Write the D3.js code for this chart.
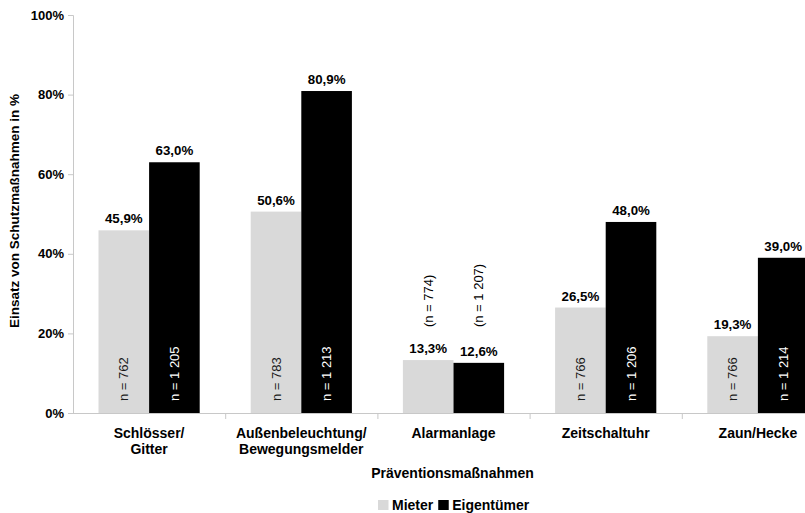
<!DOCTYPE html>
<html>
<head>
<meta charset="utf-8">
<script src="https://cdn.jsdelivr.net/npm/d3@7"></script>
<style>
  html, body { margin: 0; padding: 0; background: #fff; }
  svg { display: block; font-family: "Liberation Sans", Arial, sans-serif; }
</style>
</head>
<body>
<svg id="chart" width="805" height="513"></svg>
<script>
// Prevention measures, share of households using each (in %)
const categories = [
  ["Schlösser/", "Gitter"],
  ["Außenbeleuchtung/", "Bewegungsmelder"],
  ["Alarmanlage"],
  ["Zeitschaltuhr"],
  ["Zaun/Hecke"]
];
const seriesNames = ["Mieter", "Eigentümer"];
const mieter = [45.9, 50.6, 13.3, 26.5, 19.3];
const eigentuemer = [63.0, 80.9, 12.6, 48.0, 39.0];
const nMieter = ["762", "783", "774", "766", "766"];
const nEigentuemer = ["1 205", "1 213", "1 207", "1 206", "1 214"];
const yTicks = [0, 20, 40, 60, 80, 100];

const colors = { "Mieter": "#d9d9d9", "Eigentümer": "#000000" };
const nColors = { "Mieter": "#1a1a1a", "Eigentümer": "#fff" };

const de = d3.formatLocale({ decimal: ",", thousands: " ", grouping: [3], currency: ["", " €"] });
const fmtVal = v => de.format(".1f")(v) + "%";

const svg = d3.select("#chart");
const plotLeft = 73, plotRight = 834, plotTop = 15, plotBottom = 413;

const catKeys = categories.map(c => c.join(" "));
const x = d3.scaleBand().domain(catKeys).range([plotLeft, plotRight]).padding(0);
const bw = x.bandwidth();
const x1 = d3.scaleBand().domain(seriesNames).range([25.5, bw - 25.5]).padding(0);
const y = d3.scaleLinear().domain([0, 100]).range([plotBottom, plotTop]);

const rows = catKeys.map((k, i) => ({
  key: k,
  label: categories[i],
  values: [
    { s: "Mieter", v: mieter[i], n: nMieter[i] },
    { s: "Eigentümer", v: eigentuemer[i], n: nEigentuemer[i] }
  ]
}));

// Bars
const g = svg.append("g");
const groups = g.selectAll("g.cat").data(rows).join("g")
  .attr("class", "cat")
  .attr("transform", d => `translate(${x(d.key)},0)`);

groups.selectAll("rect").data(d => d.values).join("rect")
  .attr("x", d => x1(d.s))
  .attr("width", x1.bandwidth())
  .attr("y", d => y(d.v))
  .attr("height", d => y(0) - y(d.v))
  .attr("fill", d => colors[d.s]);

// Value labels
groups.selectAll("text.val").data(d => d.values).join("text")
  .attr("class", "val")
  .attr("x", d => x1(d.s) + x1.bandwidth() / 2)
  .attr("y", d => y(d.v) - 7)
  .attr("text-anchor", "middle")
  .attr("font-size", 13.3)
  .attr("font-weight", "bold")
  .attr("fill", "#000")
  .text(d => fmtVal(d.v));

// Sample sizes: inside tall bars, above short ones
groups.each(function (d) {
  const maxV = d3.max(d.values, v => v.v);
  const inside = maxV > 18;
  d3.select(this).selectAll("text.n").data(d.values).join("text")
    .attr("class", "n")
    .attr("transform", v => {
      const cx = x1(v.s) + x1.bandwidth() / 2 + 4.5;
      const cy = inside ? plotBottom - 12 : y(maxV) - 33;
      return `translate(${cx},${cy}) rotate(-90)`;
    })
    .attr("text-anchor", "start")
    .attr("font-size", 13)
    .attr("fill", v => inside ? nColors[v.s] : "#000")
    .text(v => inside ? `n = ${v.n}` : `(n = ${v.n})`);
});

// Y axis
const yAxis = svg.append("g")
  .attr("transform", `translate(${plotLeft},0)`)
  .call(d3.axisLeft(y).tickValues(yTicks).tickSize(5).tickPadding(4).tickFormat(d => d + "%"));
yAxis.select(".domain").attr("stroke", "#c8c8c8");
yAxis.selectAll(".tick line").attr("stroke", "#c8c8c8");
yAxis.selectAll(".tick text")
  .attr("font-size", 13).attr("font-weight", "bold").attr("fill", "#000")
  .attr("font-family", "Liberation Sans, Arial, sans-serif");

// X axis with boundary ticks between categories
const xAxisG = svg.append("g");
xAxisG.append("line")
  .attr("x1", plotLeft).attr("x2", plotRight).attr("y1", plotBottom + 0.5).attr("y2", plotBottom + 0.5)
  .attr("stroke", "#c8c8c8");
xAxisG.selectAll("line.b").data(catKeys.slice(1)).join("line")
  .attr("class", "b")
  .attr("x1", d => x(d) + 0.5).attr("x2", d => x(d) + 0.5)
  .attr("y1", plotBottom).attr("y2", plotBottom + 6)
  .attr("stroke", "#c8c8c8");

xAxisG.selectAll("text.cat").data(rows).join("text")
  .attr("class", "cat")
  .attr("x", d => x(d.key) + bw / 2)
  .attr("y", 437.5)
  .attr("text-anchor", "middle")
  .attr("font-size", 14)
  .attr("font-weight", "bold")
  .attr("fill", "#000")
  .each(function (d) {
    d3.select(this).selectAll("tspan").data(d.label).join("tspan")
      .attr("x", x(d.key) + bw / 2)
      .attr("dy", (t, i) => i === 0 ? 0 : 16.5)
      .text(t => t);
  });

// Axis titles
svg.append("text")
  .attr("x", (plotLeft + plotRight) / 2 - 1)
  .attr("y", 478)
  .attr("text-anchor", "middle")
  .attr("font-size", 14).attr("font-weight", "bold")
  .text("Präventionsmaßnahmen");

svg.append("text")
  .attr("transform", `translate(19,${(plotTop + plotBottom) / 2 - 3}) rotate(-90)`)
  .attr("text-anchor", "middle")
  .attr("font-size", 13.5).attr("font-weight", "bold")
  .text("Einsatz von Schutzmaßnahmen in %");

// Legend
const legend = svg.append("g").attr("transform", "translate(378,500)");
let lx = 0;
seriesNames.forEach(s => {
  legend.append("rect").attr("x", lx).attr("y", 0).attr("width", 10.5).attr("height", 10).attr("fill", colors[s]);
  const t = legend.append("text").attr("x", lx + 14).attr("y", 9.8)
    .attr("font-size", 14).attr("font-weight", "bold").text(s);
  lx += 14 + t.node().getComputedTextLength() + 5;
});
</script>
</body>
</html>
